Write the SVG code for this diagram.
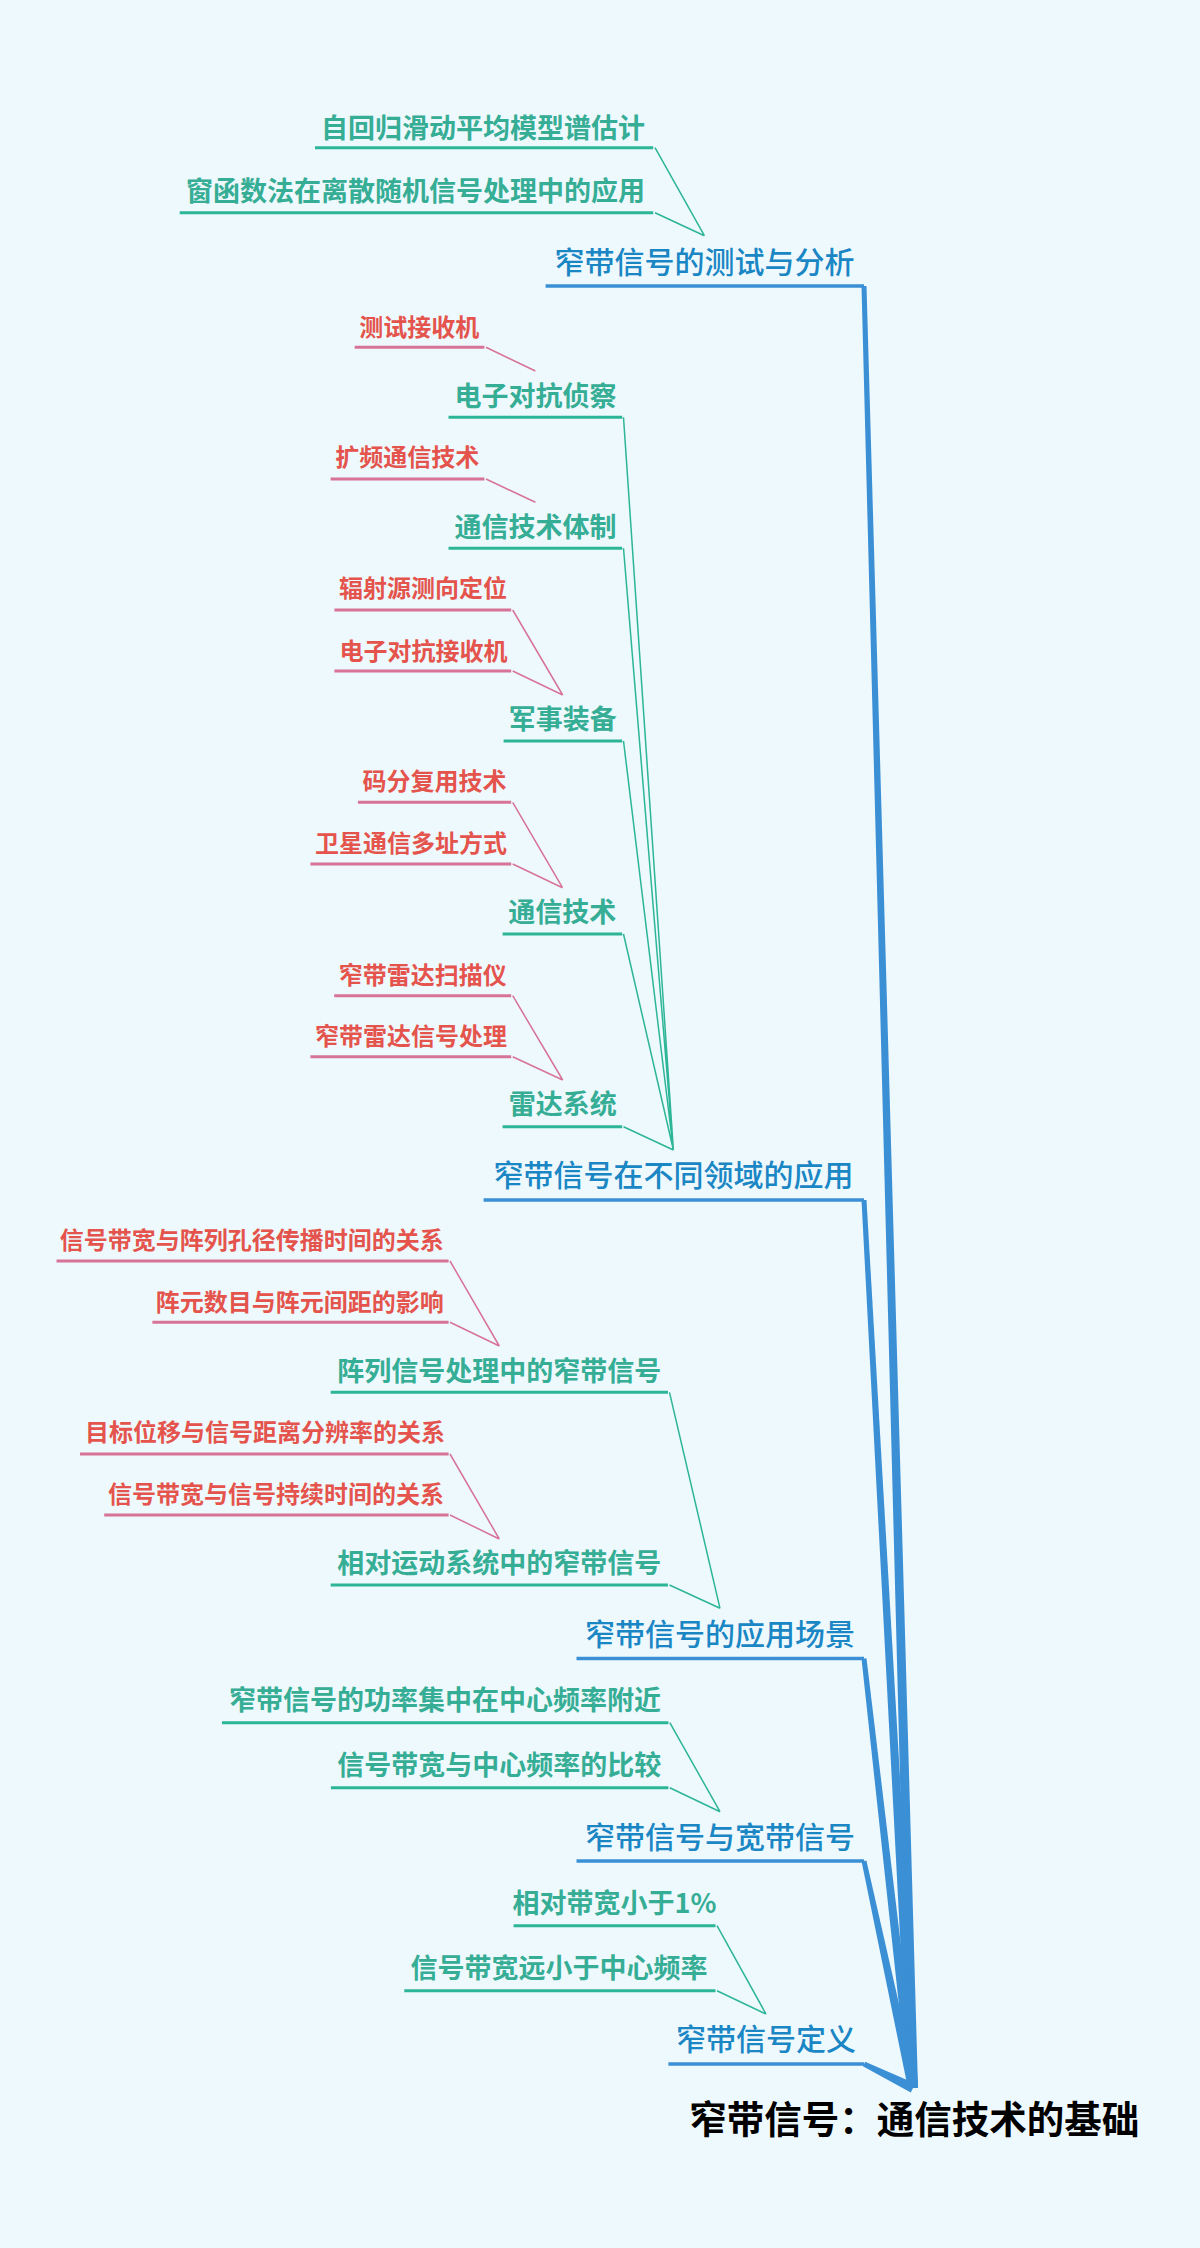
<svg xmlns="http://www.w3.org/2000/svg" width="1200" height="2248" viewBox="0 0 1200 2248">
<style>
text{font-family:"Noto Sans CJK SC","Noto Sans",sans-serif;text-anchor:middle}
.root{font-size:37.5px;font-weight:700;fill:#000}
.l1{font-size:30px;font-weight:500;fill:#1a86c4}
.l2{font-size:27px;font-weight:600;fill:#36ad95}
.l3{font-size:24px;font-weight:600;fill:#e4544c}
.u1{stroke:#3a8fd5;stroke-width:3.5;fill:none}
.u2{stroke:#2cb596;stroke-width:3;fill:none}
.u3{stroke:#d77396;stroke-width:3;fill:none}
.c1{fill:#3a8fd5}
.c2{stroke:#2cb596;stroke-width:1.5;fill:none}
.c3{stroke:#d77396;stroke-width:1.5;fill:none}
</style>
<rect width="1200" height="2248" fill="#eef9fe"/>
<g id="connectors">
<polygon class="c1" points="861.5,286.1 908,2088.1 918,2087.9 866.5,285.9"/>
<polygon class="c1" points="861.5,1200.1 908,2088.3 918,2087.7 866.5,1199.9"/>
<polygon class="c1" points="861.5,1658.8 908,2088.6 918,2087.4 866.5,1658.2"/>
<polygon class="c1" points="861.6,1861.5 908.1,2089.1 917.9,2086.9 866.4,1860.5"/>
<polygon class="c1" points="862.9,2066.3 910.8,2092.5 915.2,2083.5 865.1,2061.8"/>
<path class="c2" d="M655,147.7 L704.4,235.7 M655,212.7 L704.4,235.7"/>
<path class="c2" d="M623.5,417.3 L673.4,1150 M623.5,548.3 L673.4,1150 M623.5,741 L673.4,1150 M623.5,934 L673.4,1150 M623.5,1126.7 L673.4,1150"/>
<path class="c2" d="M669.5,1392.3 L720,1608.3 M669.5,1585 L720,1608.3"/>
<path class="c2" d="M669.8,1722.7 L720,1811.7 M669.8,1787.7 L720,1811.7"/>
<path class="c2" d="M717,1925.7 L766,2014 M717,1990.7 L766,2014"/>
<path class="c3" d="M486,347.3 L535.4,371 M486,479 L535.4,502.3"/>
<path class="c3" d="M512.7,610 L562.7,695 M512.7,671 L562.7,695"/>
<path class="c3" d="M512.7,802.3 L562.5,887.7 M512.7,864 L562.5,887.7"/>
<path class="c3" d="M512.7,995.7 L562.7,1080 M512.7,1056.7 L562.7,1080"/>
<path class="c3" d="M450,1261 L499.3,1346 M450,1322.3 L499.3,1346"/>
<path class="c3" d="M450,1454 L499.3,1539 M450,1515 L499.3,1539"/>
</g>
<g id="root"><text class="root" x="914.3" y="2133">窄带信号：通信技术的基础</text></g>
<g id="n-test"><line class="u1" x1="545.6" y1="286" x2="864" y2="286"/><text class="l1" x="704.4" y="273">窄带信号的测试与分析</text></g>
<g id="n-test-1"><line class="u2" x1="315" y1="147.7" x2="653.2" y2="147.7"/><text class="l2" x="482.9" y="137.5">自回归滑动平均模型谱估计</text></g>
<g id="n-test-2"><line class="u2" x1="179.7" y1="212.7" x2="653.2" y2="212.7"/><text class="l2" x="415.5" y="201">窗函数法在离散随机信号处理中的应用</text></g>
<g id="n-field"><line class="u1" x1="483.6" y1="1200" x2="864" y2="1200"/><text class="l1" x="673.4" y="1186">窄带信号在不同领域的应用</text></g>
<g id="n-field-1"><line class="u2" x1="448.5" y1="417.3" x2="622.2" y2="417.3"/><text class="l2" x="535.4" y="405.5">电子对抗侦察</text></g>
<g id="n-field-1a"><line class="u3" x1="354.7" y1="347.3" x2="484.4" y2="347.3"/><text class="l3" x="419.3" y="335.5">测试接收机</text></g>
<g id="n-field-2"><line class="u2" x1="448.5" y1="548.3" x2="622.2" y2="548.3"/><text class="l2" x="535.4" y="536.5">通信技术体制</text></g>
<g id="n-field-2a"><line class="u3" x1="330.6" y1="479" x2="484.4" y2="479"/><text class="l3" x="407.2" y="465.5">扩频通信技术</text></g>
<g id="n-field-3"><line class="u2" x1="503.6" y1="741" x2="622.2" y2="741"/><text class="l2" x="562.7" y="729">军事装备</text></g>
<g id="n-field-3a"><line class="u3" x1="334.4" y1="610" x2="511.2" y2="610"/><text class="l3" x="423" y="597">辐射源测向定位</text></g>
<g id="n-field-3b"><line class="u3" x1="334.4" y1="671" x2="511.2" y2="671"/><text class="l3" x="423.6" y="660">电子对抗接收机</text></g>
<g id="n-field-4"><line class="u2" x1="502.6" y1="934" x2="622.2" y2="934"/><text class="l2" x="562.3" y="921.5">通信技术</text></g>
<g id="n-field-4a"><line class="u3" x1="357.9" y1="802.3" x2="511.2" y2="802.3"/><text class="l3" x="434.6" y="790">码分复用技术</text></g>
<g id="n-field-4b"><line class="u3" x1="310.4" y1="864" x2="511.2" y2="864"/><text class="l3" x="410.9" y="851.5">卫星通信多址方式</text></g>
<g id="n-field-5"><line class="u2" x1="502.6" y1="1126.7" x2="622.2" y2="1126.7"/><text class="l2" x="562.7" y="1114">雷达系统</text></g>
<g id="n-field-5a"><line class="u3" x1="334.2" y1="995.7" x2="511.2" y2="995.7"/><text class="l3" x="422.7" y="984">窄带雷达扫描仪</text></g>
<g id="n-field-5b"><line class="u3" x1="310.4" y1="1056.7" x2="511.2" y2="1056.7"/><text class="l3" x="410.9" y="1044.5">窄带雷达信号处理</text></g>
<g id="n-scene"><line class="u1" x1="576.5" y1="1658.5" x2="864" y2="1658.5"/><text class="l1" x="720" y="1645">窄带信号的应用场景</text></g>
<g id="n-scene-1"><line class="u2" x1="330.7" y1="1392.3" x2="668" y2="1392.3"/><text class="l2" x="499.3" y="1381">阵列信号处理中的窄带信号</text></g>
<g id="n-scene-1a"><line class="u3" x1="56.5" y1="1261" x2="448.6" y2="1261"/><text class="l3" x="251.7" y="1249">信号带宽与阵列孔径传播时间的关系</text></g>
<g id="n-scene-1b"><line class="u3" x1="152.4" y1="1322.3" x2="448.6" y2="1322.3"/><text class="l3" x="299.7" y="1310.5">阵元数目与阵元间距的影响</text></g>
<g id="n-scene-2"><line class="u2" x1="330.7" y1="1585" x2="668" y2="1585"/><text class="l2" x="499.3" y="1573">相对运动系统中的窄带信号</text></g>
<g id="n-scene-2a"><line class="u3" x1="80" y1="1454" x2="448.6" y2="1454"/><text class="l3" x="264.9" y="1441">目标位移与信号距离分辨率的关系</text></g>
<g id="n-scene-2b"><line class="u3" x1="104.2" y1="1515" x2="448.6" y2="1515"/><text class="l3" x="275.9" y="1503">信号带宽与信号持续时间的关系</text></g>
<g id="n-wide"><line class="u1" x1="576.5" y1="1861" x2="864" y2="1861"/><text class="l1" x="720" y="1848">窄带信号与宽带信号</text></g>
<g id="n-wide-1"><line class="u2" x1="222" y1="1722.7" x2="668.4" y2="1722.7"/><text class="l2" x="445" y="1710">窄带信号的功率集中在中心频率附近</text></g>
<g id="n-wide-2"><line class="u2" x1="330.9" y1="1787.7" x2="668.4" y2="1787.7"/><text class="l2" x="499.2" y="1775">信号带宽与中心频率的比较</text></g>
<g id="n-def"><line class="u1" x1="668.4" y1="2064" x2="864" y2="2064"/><text class="l1" x="766" y="2050">窄带信号定义</text></g>
<g id="n-def-1"><line class="u2" x1="513.6" y1="1925.7" x2="715.5" y2="1925.7"/><text class="l2" x="614.5" y="1913">相对带宽小于1%</text></g>
<g id="n-def-2"><line class="u2" x1="404.3" y1="1990.7" x2="715.5" y2="1990.7"/><text class="l2" x="558.9" y="1978">信号带宽远小于中心频率</text></g>
</svg>
